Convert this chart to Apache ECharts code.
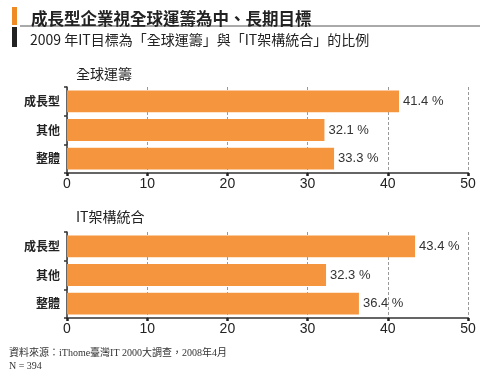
<!DOCTYPE html>
<html><head><meta charset="utf-8">
<script src="https://cdn.jsdelivr.net/npm/echarts@6/dist/echarts.min.js"></script>
<style>html,body{margin:0;padding:0;background:#fff}#c{width:480px;height:372px}</style>
</head><body><div id="c"></div>
<script>
const categories = ['成長型', '其他', '整體'];
const globalValues = [41.4, 32.1, 33.3];
const itValues = [43.4, 32.3, 36.4];
const xTicks = [0, 10, 20, 30, 40, 50];
const mainTitle = '成長型企業視全球運籌為中、長期目標';
const subTitle = '2009 年IT目標為「全球運籌」與「IT架構統合」的比例';
const panelTitles = ['全球運籌', 'IT架構統合'];
const footnotes = ['資料來源：iThome臺灣IT 2000大調查，2008年4月', 'N = 394'];

const FONT = '"Noto Sans CJK TC","Noto Sans",sans-serif';
const NUMFONT = '"Liberation Sans",Arial,sans-serif';
const chart = echarts.init(document.getElementById('c'), null, {renderer: 'canvas'});
function xAxis(i) {
  return {
    gridIndex: i, type: 'value', min: xTicks[0], max: xTicks[xTicks.length - 1], interval: 10,
    axisLine: {show: true, lineStyle: {color: '#333', width: 1.5}},
    axisTick: {show: true, length: 3, lineStyle: {color: '#222', width: 2.5}},
    axisLabel: {color: '#222', fontSize: 14, fontFamily: NUMFONT, margin: 4},
    splitLine: {show: true, lineStyle: {color: '#999', type: [3, 2], width: 1}}
  };
}
function yAxis(i) {
  return {
    gridIndex: i, type: 'category', data: categories, inverse: true,
    axisLine: {show: true, lineStyle: {color: '#333', width: 1.5}},
    axisTick: {show: true, length: 3, lineStyle: {color: '#333', width: 1.5}},
    axisLabel: {color: '#222', fontSize: 12, fontFamily: FONT, fontWeight: 'bold', margin: 7}
  };
}
function series(i, vals) {
  return {
    type: 'bar', xAxisIndex: i, yAxisIndex: i, data: vals, barCategoryGap: '24%',
    itemStyle: {color: '#F5963F'},
    label: {show: true, position: 'right', distance: 4, formatter: p => p.value.toFixed(1) + ' %',
      color: '#333', fontSize: 13, fontFamily: NUMFONT}
  };
}
chart.setOption({
  animation: false,
  title: [
    {text: mainTitle, left: 26, top: 5, textStyle: {fontSize: 16.5, fontWeight: 'bold', color: '#222', fontFamily: FONT}},
    {text: subTitle, left: 25, top: 28, textStyle: {fontSize: 14, fontWeight: 'normal', color: '#222', fontFamily: FONT}},
    {text: panelTitles[0], left: 71, top: 62, textStyle: {fontSize: 14, fontWeight: 'normal', color: '#222', fontFamily: FONT}},
    {text: panelTitles[1], left: 71, top: 205, textStyle: {fontSize: 14, fontWeight: 'normal', color: '#222', fontFamily: FONT}},
    {text: footnotes[0], left: 4, top: 343, textStyle: {fontSize: 10, fontWeight: 'normal', color: '#333', fontFamily: '"Liberation Serif","Noto Sans CJK TC",serif'}},
    {text: footnotes[1], left: 4, top: 356, textStyle: {fontSize: 10, fontWeight: 'normal', color: '#333', fontFamily: '"Liberation Serif","Noto Sans CJK TC",serif'}}
  ],
  graphic: [
    {type: 'rect', shape: {x: 12, y: 7, width: 5, height: 18}, style: {fill: '#F08A24'}},
    {type: 'rect', shape: {x: 12, y: 27, width: 5, height: 20}, style: {fill: '#222'}},
    {type: 'line', shape: {x1: 20, y1: 26, x2: 480, y2: 26}, style: {stroke: '#555', lineWidth: 1}}
  ],
  grid: [
    {left: 67, right: 12, top: 87, height: 86},
    {left: 67, right: 12, top: 232, height: 86}
  ],
  xAxis: [xAxis(0), xAxis(1)],
  yAxis: [yAxis(0), yAxis(1)],
  series: [series(0, globalValues), series(1, itValues)]
});
</script></body></html>
